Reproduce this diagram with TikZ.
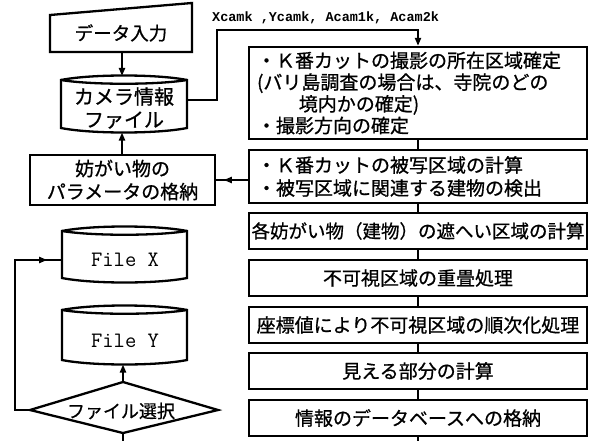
\documentclass[tikz,border=0pt]{standalone}
\usepackage{fontspec}
\newfontfamily\jp[FakeBold=0.8]{Noto Sans CJK JP}
\newfontfamily\mono{Liberation Mono}
\usetikzlibrary{arrows.meta,decorations.markings}
\newcommand\drumshape[4]{%
  \draw (#1,#3) .. controls +(30,-6) and +(-30,-6) .. (#2,#3) -- (#2,#4)
        .. controls +(-30,6) and +(30,6) .. (#1,#4) -- cycle;
  \draw (#1,#3) .. controls +(30,5) and +(-30,5) .. (#2,#3);}
\begin{document}
\begin{tikzpicture}[x=1pt,y=-1pt,line width=2.3pt,
  jpf/.style={font=\jp\fontsize{#1}{22}\selectfont},
  rbox/.style={draw, minimum width=338pt, inner sep=0pt, align=center, jpf=19},
  conn/.style={line width=2pt},
  arr/.style={conn,-{Triangle[length=8pt,width=6pt]}},
  midarr/.style={conn, postaction={decorate},
    decoration={markings, mark=at position #1 with {\arrow{Triangle[length=8pt,width=6pt]}}}}]
\useasboundingbox (0,0) rectangle (601,441);

% right column
\node[rbox, minimum height=92pt, text width=322pt, inner xsep=8pt, align=left,
      font=\jp\fontsize{19}{21.7}\selectfont] (b1) at (418,93)
  {・Ｋ番カットの撮影の所在区域確定\\(バリ島調査の場合は、寺院のどの\\\hspace{2.2em}境内かの確定)\\・撮影方向の確定};
\node[rbox, minimum height=53pt, text width=322pt, inner xsep=8pt, align=left,
      font=\jp\fontsize{19}{23}\selectfont] (b2) at (418,176.5)
  {・Ｋ番カットの被写区域の計算\\・被写区域に関連する建物の検出};
\node[rbox, minimum height=36pt, jpf=18.5] (b3) at (418,231) {各妨がい物（建物）の遮へい区域の計算};
\node[rbox, minimum height=36pt] (b4) at (418,278) {不可視区域の重畳処理};
\node[rbox, minimum height=36pt] (b5) at (418,325) {座標値により不可視区域の順次化処理};
\node[rbox, minimum height=36pt] (b6) at (418,371) {見える部分の計算};
\node[rbox, minimum height=36pt] (b7) at (418,418) {情報のデータベースへの格納};
\coordinate (bend) at (418,441);
\draw[conn] (b1.south) -- (b2.north);
\draw[conn] (b2.south) -- (b3.north);
\draw[conn] (b3.south) -- (b4.north);
\draw[conn] (b4.south) -- (b5.north);
\draw[conn] (b5.south) -- (b6.north);
\draw[conn] (b6.south) -- (b7.north);
\draw[conn] (b7.south) -- (bend);

% data input
\draw (50,15) -- (192,3) -- (192,52) -- (50,52) -- cycle;
\node[jpf=18.5] (din) at (121,33) {データ入力};
\coordinate (dinb) at (122,52);

% camera file
\drumshape{61}{187}{80}{128}
\node[align=center, font=\jp\fontsize{20}{23}\selectfont] (cam) at (124,108) {カメラ情報\\ファイル};
\coordinate (camt) at (122,76);
\coordinate (camb) at (122,132.5);
\coordinate (camr) at (187,100);
\draw[arr] (dinb) -- (camt);

% camera -> box 1
\coordinate (k1) at (217,100);
\coordinate (k2) at (217,30);
\draw[arr] (camr) -- (k1) -- (k2) -| (b1.north);
\node[font=\mono\bfseries\fontsize{13.5}{13.5}\selectfont, inner sep=0pt, anchor=west] (lab) at (211,18)
  {Xcamk ,Ycamk, Acam1k, Acam2k};

% parameter box
\node[draw, minimum width=185pt, minimum height=50pt, inner sep=0pt, align=center,
      font=\jp\fontsize{19}{23}\selectfont] (par) at (122.5,180) {妨がい物の\\パラメータの格納};
\draw[arr] (par.north -| camb) -- (camb);
\draw[midarr=0.76] (b2.west |- par.east) -- (par.east);

% files
\drumshape{62}{187}{231}{278}
\node[font=\ttfamily\fontsize{22}{22}\selectfont] (fx) at (125,260) {File  X};
\coordinate (fxl) at (62,260);
\drumshape{62}{187}{310}{360}
\node[font=\ttfamily\fontsize{22}{22}\selectfont] (fy) at (125,341) {File  Y};
\coordinate (fyb) at (123,364.5);

% selection diamond
\draw (30,410) -- (123,382) -- (218,410) -- (123,433) -- cycle;
\node[jpf=18] (sel) at (121,411) {ファイル選択};
\coordinate (selt) at (123,382);
\coordinate (sell) at (30,410);
\coordinate (selb) at (123,433);
\coordinate (l1) at (15,410);
\coordinate (l2) at (15,260);
\coordinate (send) at (123,441);
\draw[arr] (selt) -- (fyb);
\draw[midarr=0.93] (sell) -- (l1) -- (l2) -- (fxl);
\draw[conn] (selb) -- (send);
\end{tikzpicture}
\end{document}
